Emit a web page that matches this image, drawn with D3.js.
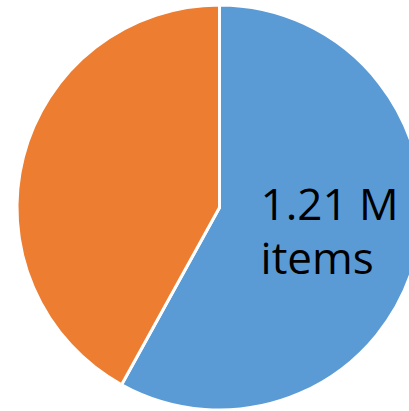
<!DOCTYPE html>
<html>
<head>
<meta charset="utf-8">
<script src="https://cdn.jsdelivr.net/npm/d3@7"></script>
<style>
  html, body { margin: 0; padding: 0; background: #fff; overflow: hidden; }
</style>
</head>
<body>
<svg id="canvas" width="409" height="411"></svg>
<script>
let categories = ['items', 'other']
let values = [1.21, 0.875]
let colors = ['#5B9BD5', '#ED7D31']
let labelLines = ['1.21 M', 'items']

let svg = d3.select('#canvas')

let cx = 219.5
let cy = 207.5
let radius = 202.5

let pie = d3.pie().sort(null).value((d) => { return d })
let arc = d3.arc().innerRadius(0).outerRadius(radius)

let g = svg.append('g')
    .attr('transform', 'translate(' + cx + ',' + cy + ')')

let slices = pie(values)

g.selectAll('path')
    .data(slices)
    .enter()
    .append('path')
    .attr('d', arc)
    .attr('fill', (d, i) => { return colors[i] })
    .attr('stroke', '#fff')
    .attr('stroke-width', 3)

// label sits in the blue slice, one text per line
let c = arc.centroid(slices[0])
g.selectAll('text.label')
    .data(labelLines)
    .enter()
    .append('text')
    .attr('class', 'label')
    .attr('x', c[0] - 57)
    .attr('y', (d, i) => { return c[1] - 13 + i * 54 })
    .style('font-family', '"Open Sans", "Noto Sans", sans-serif')
    .style('font-size', '44px')
    .style('fill', '#000')
    .text((d) => { return d })
</script>
</body>
</html>
